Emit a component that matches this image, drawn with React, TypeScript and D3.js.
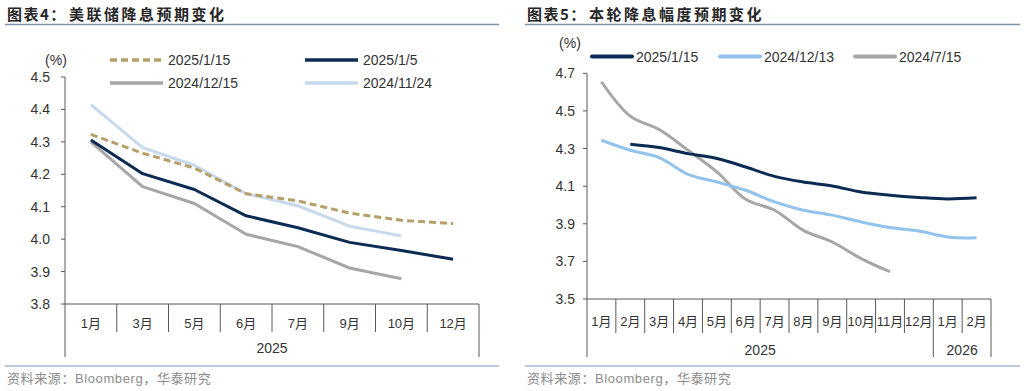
import * as d3 from "d3";

// ---- data: left panel (图表4) ----
const leftMonths = ["1月", "3月", "5月", "6月", "7月", "9月", "10月", "12月"];
const left20250115 = [4.323, 4.265, 4.219, 4.14, 4.118, 4.08, 4.058, 4.048];
const left20250105 = [4.306, 4.202, 4.153, 4.072, 4.035, 3.99, 3.965, 3.938];
const left20241215 = [4.3, 4.162, 4.11, 4.015, 3.977, 3.911, 3.878];
const left20241124 = [4.415, 4.282, 4.228, 4.14, 4.103, 4.04, 4.01];
const leftTicks = [3.8, 3.9, 4.0, 4.1, 4.2, 4.3, 4.4, 4.5];

// ---- data: right panel (图表5) ----
const rightMonths = ["1月", "2月", "3月", "4月", "5月", "6月", "7月", "8月", "9月", "10月", "11月", "12月", "1月", "2月"];
const rightYears = [
  { label: "2025", from: 0, to: 11 },
  { label: "2026", from: 12, to: 13 },
];
const right20250115 = [null, 4.323, 4.305, 4.273, 4.247, 4.202, 4.152, 4.122, 4.101, 4.069, 4.052, 4.04, 4.032, 4.038];
const right20241213 = [4.344, 4.291, 4.252, 4.163, 4.122, 4.078, 4.016, 3.972, 3.946, 3.91, 3.88, 3.862, 3.83, 3.825];
const right20240715 = [4.655, 4.472, 4.401, 4.291, 4.176, 4.03, 3.972, 3.865, 3.803, 3.715, 3.645, null, null, null];
const rightTicks = [3.5, 3.7, 3.9, 4.1, 4.3, 4.5, 4.7];

const NAVY = "#0c2b53";
const TAN = "#b5a06a";
const GRAY = "#a6a6a6";
const PALE = "#c7d9ec";
const SKY = "#92c3ec";
const AXIS = "#595959";
const RULE = "#7d93ad";
const INK = "#333333";
const FONT = "'Liberation Sans', Arial, 'Noto Sans CJK SC', sans-serif";
const CJK = "'Noto Sans CJK SC', sans-serif";

function Header({ x0, x1, label, title }: { x0: number; x1: number; label: string; title: string }) {
  return (
    <g>
      <text x={x0 + 2} y={20} fontFamily={CJK} fontWeight={700} fontSize={15} letterSpacing={1.5} fill="#262626">
        {label}
      </text>
      <text x={x0 + 64} y={20} fontFamily={CJK} fontWeight={700} fontSize={15} letterSpacing={2.5} fill="#262626">
        {title}
      </text>
      <line x1={x0} x2={x1} y1={24.5} y2={24.5} stroke={RULE} strokeWidth={1.5} />
      <line x1={x0} x2={x1} y1={366} y2={366} stroke={RULE} strokeWidth={1.2} />
      <text x={x0 + 2} y={383} fontFamily={CJK} fontSize={13} fill="#8c8c8c" letterSpacing={0.6}>
        资料来源：<tspan fontFamily={FONT}>Bloomberg</tspan>，华泰研究
      </text>
    </g>
  );
}

function LeftChart() {
  const x = d3.scaleBand<string>().domain(leftMonths).range([65, 479]);
  const y = d3.scaleLinear().domain([3.8, 4.5]).range([304, 77]);
  const cx = (i: number) => (x(leftMonths[i]) ?? 0) + x.bandwidth() / 2;
  const line = d3.line<number>().x((_, i) => cx(i)).y((d) => y(d));
  const series = [
    { name: "2024/12/15", data: left20241215, color: GRAY, dash: "" },
    { name: "2024/11/24", data: left20241124, color: PALE, dash: "" },
    { name: "2025/1/15", data: left20250115, color: TAN, dash: "7,4" },
    { name: "2025/1/5", data: left20250105, color: NAVY, dash: "" },
  ];
  const legend = [
    { s: series[2], lx: 110, ly: 60 },
    { s: series[3], lx: 305, ly: 60 },
    { s: series[0], lx: 110, ly: 83 },
    { s: series[1], lx: 305, ly: 83 },
  ];
  const [y0] = y.range();
  return (
    <g fontFamily={FONT}>
      <text x={56} y={60} textAnchor="middle" dominantBaseline="central" fontSize={14} fill={INK}>(%)</text>
      {legend.map(({ s, lx, ly }) => (
        <g key={s.name}>
          <line x1={lx} x2={lx + 53} y1={ly} y2={ly} stroke={s.color} strokeWidth={3.5} strokeDasharray={s.dash || undefined} />
          <text x={lx + 58} y={ly} dominantBaseline="central" fontSize={14} fill={INK}>{s.name}</text>
        </g>
      ))}
      {leftTicks.map((t) => (
        <g key={t}>
          <line x1={61} x2={65} y1={y(t)} y2={y(t)} stroke={AXIS} />
          <text x={50} y={y(t)} textAnchor="end" dominantBaseline="central" fontSize={14} fill={INK}>{t.toFixed(1)}</text>
        </g>
      ))}
      <line x1={65} x2={65} y1={y(4.5)} y2={357} stroke={AXIS} />
      <line x1={65} x2={479} y1={y0} y2={y0} stroke={AXIS} />
      {leftMonths.map((m, i) => (
        <g key={m}>
          <line x1={x(m)! + x.bandwidth()} x2={x(m)! + x.bandwidth()} y1={y0} y2={i === leftMonths.length - 1 ? 357 : 332} stroke={AXIS} />
          <text x={cx(i)} y={323} textAnchor="middle" dominantBaseline="central" fontSize={13} fill={INK}>{m}</text>
        </g>
      ))}
      <text x={272} y={348} textAnchor="middle" dominantBaseline="central" fontSize={14} fill={INK}>2025</text>
      {series.map((s) => (
        <path key={s.name} d={line(s.data) ?? ""} fill="none" stroke={s.color} strokeWidth={3} strokeDasharray={s.dash || undefined} strokeLinejoin="round" />
      ))}
    </g>
  );
}

function RightChart() {
  const idx = rightMonths.map((_, i) => String(i));
  const x = d3.scaleBand<string>().domain(idx).range([587, 991]);
  const y = d3.scaleLinear().domain([3.5, 4.7]).range([299, 73.3]);
  const cx = (i: number) => (x(String(i)) ?? 0) + x.bandwidth() / 2;
  const line = d3
    .line<number | null>()
    .defined((d) => d !== null)
    .x((_, i) => cx(i))
    .y((d) => y(d as number))
    .curve(d3.curveCatmullRom.alpha(0.5));
  const series = [
    { name: "2025/1/15", data: right20250115, color: NAVY, lx: 592 },
    { name: "2024/12/13", data: right20241213, color: SKY, lx: 720 },
    { name: "2024/7/15", data: right20240715, color: GRAY, lx: 855 },
  ];
  const [y0] = y.range();
  const yearEdges = new Set(rightYears.map((yy) => yy.to));
  return (
    <g fontFamily={FONT}>
      <text x={570} y={43} textAnchor="middle" dominantBaseline="central" fontSize={14} fill={INK}>(%)</text>
      {series.map((s) => (
        <g key={s.name}>
          <line x1={s.lx} x2={s.lx + 40} y1={56.5} y2={56.5} stroke={s.color} strokeWidth={4} strokeLinecap="round" />
          <text x={s.lx + 44} y={56.5} dominantBaseline="central" fontSize={14} fill={INK}>{s.name}</text>
        </g>
      ))}
      {rightTicks.map((t) => (
        <g key={t}>
          <line x1={583} x2={587} y1={y(t)} y2={y(t)} stroke={AXIS} />
          <text x={575} y={y(t)} textAnchor="end" dominantBaseline="central" fontSize={14} fill={INK}>{t.toFixed(1)}</text>
        </g>
      ))}
      <line x1={587} x2={587} y1={y(4.7)} y2={357} stroke={AXIS} />
      <line x1={587} x2={991} y1={y0} y2={y0} stroke={AXIS} />
      {rightMonths.map((m, i) => {
        const edge = x(String(i))! + x.bandwidth();
        return (
          <g key={i}>
            <line x1={edge} x2={edge} y1={y0} y2={yearEdges.has(i) ? 357 : 333} stroke={AXIS} />
            <text x={cx(i)} y={321} textAnchor="middle" dominantBaseline="central" fontSize={13} fill={INK}>{m}</text>
          </g>
        );
      })}
      {rightYears.map((yy) => (
        <text key={yy.label} x={(x(String(yy.from))! + x(String(yy.to))! + x.bandwidth()) / 2} y={350} textAnchor="middle" dominantBaseline="central" fontSize={14} fill={INK}>
          {yy.label}
        </text>
      ))}
      {[series[2], series[1], series[0]].map((s) => (
        <path key={s.name} d={line(s.data) ?? ""} fill="none" stroke={s.color} strokeWidth={3} strokeLinejoin="round" />
      ))}
    </g>
  );
}

export default function App() {
  return (
    <div style={{ position: "absolute", left: 0, top: 0, width: 1024, height: 391, background: "#fff" }}>
      <svg width={1024} height={391} style={{ display: "block" }}>
        <rect width={1024} height={391} fill="#fff" />
        <Header x0={5} x1={499} label="图表4：" title="美联储降息预期变化" />
        <Header x0={525} x1={1020} label="图表5：" title="本轮降息幅度预期变化" />
        <LeftChart />
        <RightChart />
      </svg>
    </div>
  );
}
